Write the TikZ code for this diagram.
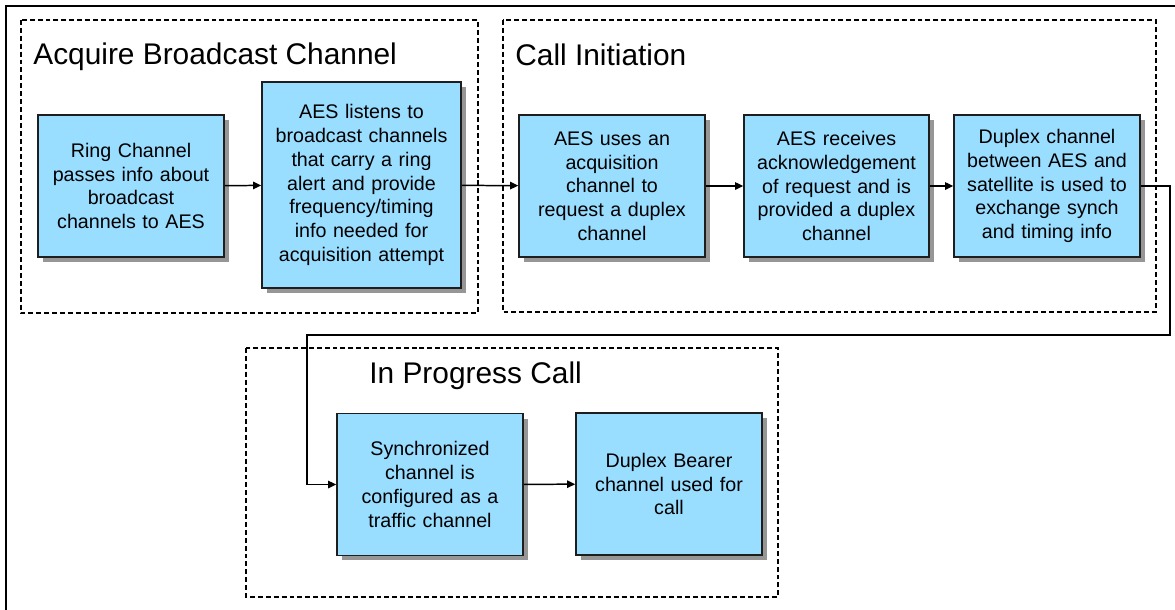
\documentclass[tikz,border=0pt]{standalone}
\usepackage{fontspec}
\setmainfont{Liberation Sans}
\usepackage{tikz}
\usetikzlibrary{arrows.meta, positioning, shadows}
\definecolor{boxblue}{RGB}{153,221,255}
\definecolor{boxedge}{RGB}{30,30,30}
\definecolor{shadowgray}{RGB}{150,150,150}
\tikzset{
  step box/.style={rectangle, draw=boxedge, fill=boxblue, line width=0.9pt,
    align=center, inner sep=0pt, minimum height=2.84cm,
    font=\fontsize{11.2}{13.5}\selectfont,
    drop shadow={shadow xshift=0.1cm, shadow yshift=-0.1cm,
      fill=shadowgray, opacity=1}},
  group/.style={draw=black, line width=0.6pt, dash pattern=on 2.8pt off 1.7pt},
  grouptitle/.style={anchor=base west, inner sep=0pt, font=\fontsize{17}{20}\selectfont},
  arrow/.style={-{Triangle[length=4.6pt, width=4.2pt]}, line width=0.85pt, color=black}
}
\begin{document}
\begin{tikzpicture}[x=0.02cm, y=-0.02cm]
  \useasboundingbox (0,0) rectangle (1175,609);

  % Outer frame
  \draw[line width=1.7pt] (6,6) rectangle (1200,630);

  % Phase groups
  \draw[group] (21,20) rectangle (478,313);
  \draw[group] (503,20) rectangle (1156,312);
  \draw[group] (246,348) rectangle (778,597);
  \node[grouptitle] (t1) at (33,64) {Acquire Broadcast Channel};
  \node[grouptitle] (t2) at (515,65) {Call Initiation};
  \node[grouptitle] (t3) at (369,383) {In Progress Call};

  % Steps
  \node[step box, text width=3.72cm] (ring) at (131,186)
    {Ring Channel\\passes info about\\broadcast\\channels to AES};
  \node[step box, text width=3.98cm, minimum height=4.12cm] (listen) at (361.5,185)
    {AES listens to\\broadcast channels\\that carry a ring\\alert and provide\\frequency/timing\\info needed for\\acquisition attempt};
  \node[step box, text width=3.72cm] (acq) at (612,186)
    {AES uses an\\acquisition\\channel to\\request a duplex\\channel};
  \node[step box, text width=3.70cm] (ack) at (836.5,186)
    {AES receives\\acknowledgement\\of request and is\\provided a duplex\\channel};
  \node[step box, text width=3.72cm] (sync) at (1047,186)
    {Duplex channel\\between AES and\\satellite is used to\\exchange synch\\and timing info};
  \node[step box, text width=3.72cm] (traffic) at (430,484.5)
    {Synchronized\\channel is\\configured as a\\traffic channel};
  \node[step box, text width=3.72cm] (bearer) at (669,484)
    {Duplex Bearer\\channel used for\\call};

  % Connectors
  \coordinate (loop) at (307,335);
  \draw[arrow] (ring) -- (listen);
  \draw[arrow] (listen) -- (acq);
  \draw[arrow] (acq) -- (ack);
  \draw[arrow] (ack) -- (sync);
  \draw[arrow] (sync.east) -- ++(29,0) |- (loop) |- (traffic.west);
  \draw[arrow] (traffic) -- (bearer);

\end{tikzpicture}
\end{document}
